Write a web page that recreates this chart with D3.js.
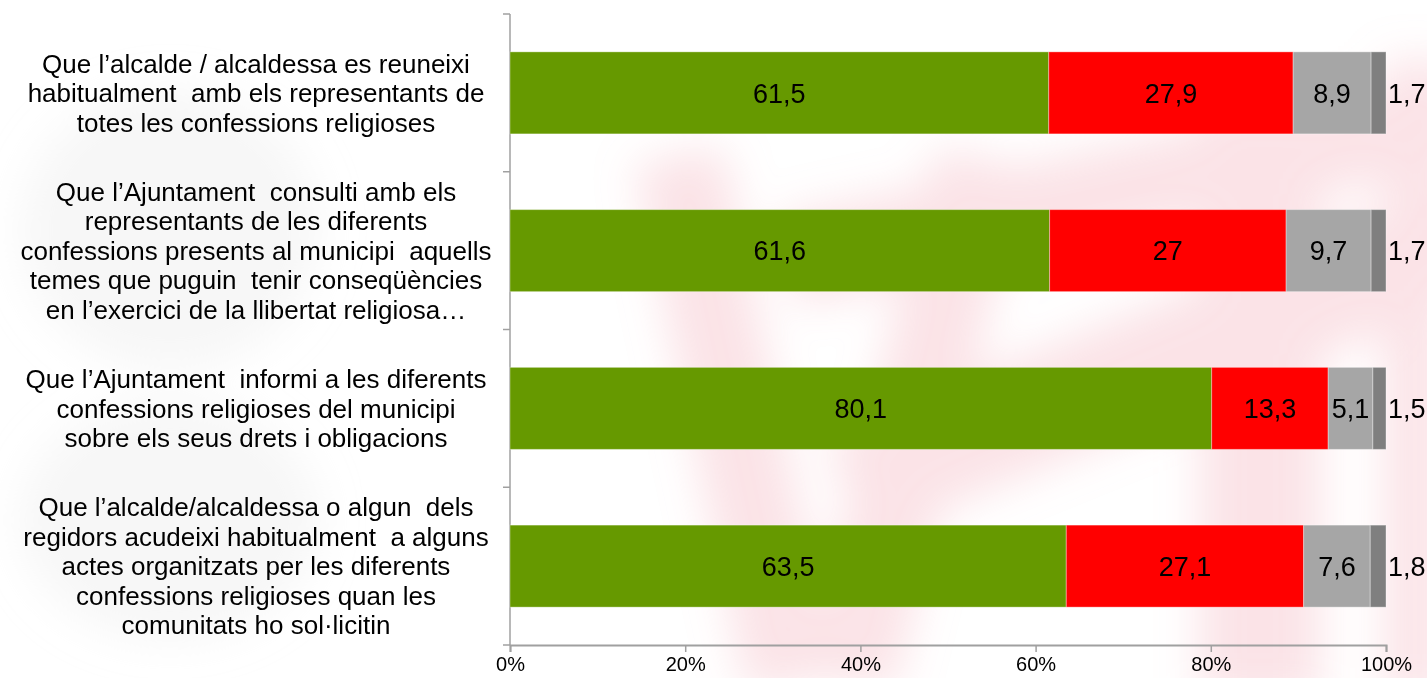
<!DOCTYPE html>
<html>
<head>
<meta charset="utf-8">
<script src="https://cdn.jsdelivr.net/npm/d3@7"></script>
<style>
  body { margin: 0; background: #fff; }
  svg text { font-family: "Liberation Sans", Arial, sans-serif; fill: #000; }
</style>
</head>
<body>
<svg id="chart" width="1427" height="678"></svg>
<script>
// categories (each one split in its lines, as on the slide)
var categories = [
    ["Que l\u2019alcalde / alcaldessa es reuneixi", "habitualment  amb els representants de", "totes les confessions religioses"],
    ["Que l\u2019Ajuntament  consulti amb els", "representants de les diferents", "confessions presents al municipi  aquells", "temes que puguin  tenir conseq\u00fc\u00e8ncies", "en l\u2019exercici de la llibertat religiosa\u2026"],
    ["Que l\u2019Ajuntament  informi a les diferents", "confessions religioses del municipi", "sobre els seus drets i obligacions"],
    ["Que l\u2019alcalde/alcaldessa o algun  dels", "regidors acudeixi habitualment  a alguns", "actes organitzats per les diferents", "confessions religioses quan les", "comunitats ho sol\u00b7licitin"]
];

// series values (%)
var serie1 = [61.5, 61.6, 80.1, 63.5];
var serie2 = [27.9, 27, 13.3, 27.1];
var serie3 = [8.9, 9.7, 5.1, 7.6];
var serie4 = [1.7, 1.7, 1.5, 1.8];

var tickValues = [0, 20, 40, 60, 80, 100];

var colors = ["#669900", "#ff0000", "#a6a6a6", "#7f7f7f"];

var svg = d3.select("#chart");

/********** watermark at the back **********/
var defs = svg.append("defs");
defs.append("filter").attr("id", "blur")
    .attr("x", "-50%").attr("y", "-50%").attr("width", "200%").attr("height", "200%")
    .append("feGaussianBlur").attr("stdDeviation", 22);

var wm = svg.append("g").attr("filter", "url(#blur)");
// faint grey smudges on the left
[[20, 90, 300, 280], [20, 400, 300, 240]].forEach(function(r) {
    wm.append("ellipse").attr("cx", r[0] + r[2] / 2).attr("cy", r[1] + r[3] / 2)
        .attr("rx", r[2] / 2).attr("ry", r[3] / 2)
        .attr("fill", "#e4e4e4").attr("opacity", 0.3);
});
// pink diagonal strokes on the right
var pink = wm.append("g").attr("opacity", 0.28).attr("fill", "#ef9aa8");
pink.append("rect").attr("x", 780).attr("y", 150).attr("width", 700).attr("height", 90)
    .attr("transform", "rotate(-12 1100 195)");
pink.append("rect").attr("x", 820).attr("y", 310).attr("width", 700).attr("height", 110)
    .attr("transform", "rotate(-22 1150 360)");
pink.append("rect").attr("x", 690).attr("y", 150).attr("width", 90).attr("height", 540)
    .attr("transform", "rotate(-12 735 420)");
pink.append("rect").attr("x", 870).attr("y", 150).attr("width", 90).attr("height", 540)
    .attr("transform", "rotate(14 915 420)");
pink.append("rect").attr("x", 1200).attr("y", 100).attr("width", 120).attr("height", 600);
pink.append("rect").attr("x", 1385).attr("y", 60).attr("width", 60).attr("height", 640);

/********** scales **********/
var x = d3.scaleLinear().domain([0, 100]).range([510, 1386]);

var y = d3.scaleBand()
    .domain(d3.range(categories.length))
    .range([14, 645])
    .paddingInner(0.48)
    .paddingOuter(0.24);

/********** axes **********/
var xAxis = svg.append("g")
    .attr("transform", "translate(0,645)")
    .call(d3.axisBottom(x).tickValues(tickValues).tickSize(7).tickPadding(5)
        .tickFormat(function(d) { return d + "%"; }));
xAxis.select(".domain").attr("stroke", "#a0a0a0").attr("stroke-width", 2);
xAxis.selectAll(".tick line").attr("stroke", "#a0a0a0").attr("stroke-width", 1.5);
xAxis.selectAll(".tick text").attr("font-size", 20).attr("font-family", "Liberation Sans, Arial, sans-serif")
    .attr("fill", "#000");

var step = y.step();
var boundaries = d3.range(categories.length + 1).map(function(i) { return 14 + i * step; });
var yAxis = svg.append("g");
yAxis.append("line").attr("x1", 510).attr("x2", 510).attr("y1", 14).attr("y2", 645)
    .attr("stroke", "#a0a0a0").attr("stroke-width", 1.5);
yAxis.selectAll(".ytick").data(boundaries).enter().append("line")
    .attr("x1", 503).attr("x2", 510)
    .attr("y1", function(d) { return d; }).attr("y2", function(d) { return d; })
    .attr("stroke", "#a0a0a0").attr("stroke-width", 1.5);

/********** bars **********/
var series = [serie1, serie2, serie3, serie4];
var rows = categories.map(function(c, i) {
    var x0 = 0;
    return series.map(function(s, k) {
        var seg = {row: i, k: k, v: s[i], x0: x0, x1: x0 + s[i]};
        x0 += s[i];
        return seg;
    });
});
var segs = d3.merge(rows);

svg.append("g").selectAll("rect").data(segs).enter().append("rect")
    .attr("x", function(d) { return x(d.x0); })
    .attr("y", function(d) { return y(d.row); })
    .attr("width", function(d) { return x(d.x1) - x(d.x0); })
    .attr("height", y.bandwidth())
    .attr("fill", function(d) { return colors[d.k]; })
    .attr("stroke", "rgba(255,255,255,0.35)")
    .attr("stroke-width", 1);

function fmt(v) { return String(v).replace(".", ","); }

svg.append("g").selectAll("text").data(segs).enter().append("text")
    .attr("x", function(d) { return d.k == 3 ? x(100) + 2 : (x(d.x0) + x(d.x1)) / 2; })
    .attr("y", function(d) { return y(d.row) + y.bandwidth() / 2; })
    .attr("dy", "0.36em")
    .attr("text-anchor", function(d) { return d.k == 3 ? "start" : "middle"; })
    .attr("font-size", 27)
    .text(function(d) { return fmt(d.v); });

/********** category labels **********/
var lineH = 29.5;
var labels = svg.append("g");
categories.forEach(function(lines, i) {
    var cy = y(i) + y.bandwidth() / 2;
    var top = cy - (lines.length - 1) * lineH / 2;
    var t = labels.append("text")
        .attr("text-anchor", "middle")
        .attr("font-size", 26)
        .style("white-space", "pre");
    lines.forEach(function(l, j) {
        t.append("tspan").attr("x", 256).attr("y", top + j * lineH).attr("dy", "0.36em").text(l);
    });
});
</script>
</body>
</html>
